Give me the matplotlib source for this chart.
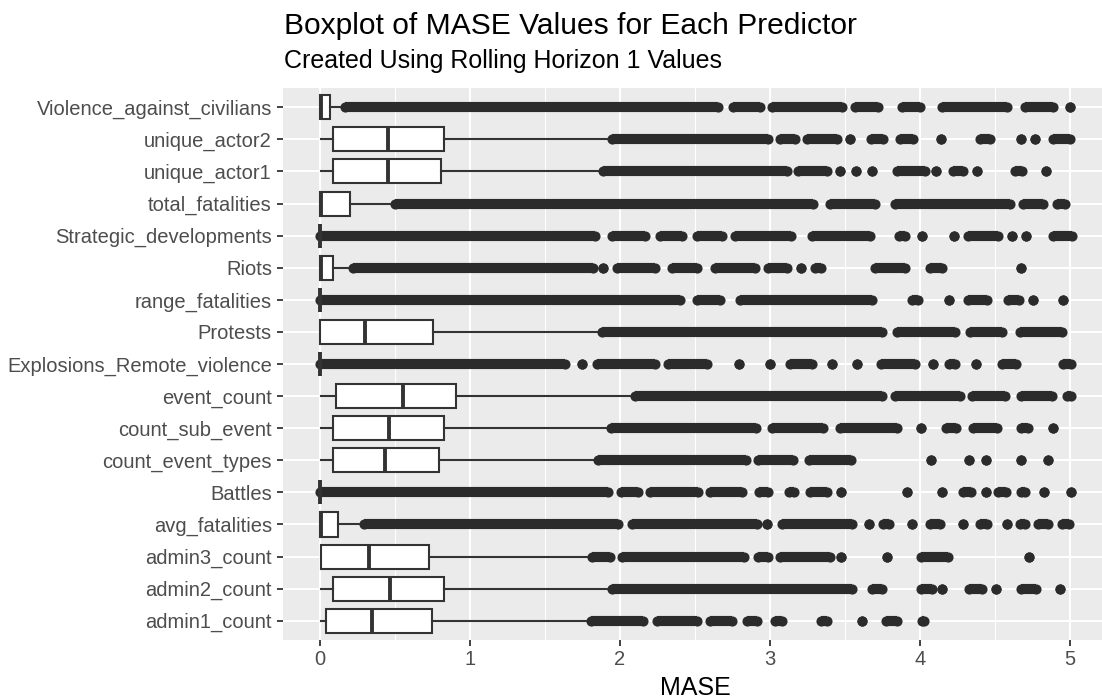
import matplotlib
matplotlib.use("Agg")
import matplotlib.pyplot as plt
from matplotlib.ticker import MultipleLocator

plt.rcParams['font.family'] = ['Liberation Sans', 'DejaVu Sans']

# ---------------- data (bottom to top, as ggplot orders factor levels) -------------
categories = ["admin1_count", "admin2_count", "admin3_count", "avg_fatalities", "Battles",
              "count_event_types", "count_sub_event", "event_count",
              "Explosions_Remote_violence", "Protests", "range_fatalities", "Riots",
              "Strategic_developments", "total_fatalities", "unique_actor1",
              "unique_actor2", "Violence_against_civilians"]

whisker_low = [0.004, 0.004, 0.004, 0.0, 0.0, 0.004, 0.004, 0.004,
               0.0, 0.0, 0.0, 0.0, 0.0, 0.0, 0.004, 0.004, 0.0]
q1 = [0.040, 0.084, 0.004, 0.0, 0.0, 0.084, 0.084, 0.107,
      0.0, 0.0, 0.0, 0.0, 0.0, 0.0, 0.084, 0.084, 0.0]
median = [0.349, 0.467, 0.329, 0.004, 0.0, 0.431, 0.460, 0.556,
          0.0, 0.302, 0.0, 0.004, 0.0, 0.004, 0.456, 0.456, 0.004]
q3 = [0.744, 0.829, 0.729, 0.122, 0.0, 0.796, 0.829, 0.904,
      0.0, 0.756, 0.0, 0.089, 0.0, 0.200, 0.809, 0.829, 0.067]
whisker_high = [1.773, 1.911, 1.778, 0.262, 0.0, 1.822, 1.907, 2.067,
                0.0, 1.844, 0.0, 0.190, 0.0, 0.467, 1.855, 1.922, 0.133]

# outliers: runs of overlapping points [first, last]; a single point has first == last
outlier_runs = {
    "admin1_count": [[1.807, 2.156], [2.244, 2.511], [2.600, 2.744], [2.849, 2.911],
                     [3.033, 3.078], [3.338, 3.378], [3.616, 3.616], [3.771, 3.849],
                     [4.016, 4.029]],
    "admin2_count": [[1.944, 3.544], [3.682, 3.744], [4.004, 4.078], [4.149, 4.149],
                     [4.327, 4.416], [4.504, 4.504], [4.671, 4.771], [4.933, 4.933]],
    "admin3_count": [[1.811, 1.933], [2.011, 2.829], [2.922, 2.989], [3.067, 3.400],
                     [3.471, 3.471], [3.782, 3.782], [4.004, 4.189], [4.727, 4.727]],
    "avg_fatalities": [[0.296, 1.989], [2.078, 2.911], [2.978, 2.978], [3.078, 3.544],
                       [3.658, 3.658], [3.756, 3.793], [3.944, 3.944], [4.067, 4.133],
                       [4.289, 4.289], [4.400, 4.444], [4.578, 4.578], [4.667, 4.700],
                       [4.789, 4.856], [4.944, 4.993]],
    "Battles": [[0.0, 1.922], [2.007, 2.122], [2.200, 2.522], [2.600, 2.811],
                [2.927, 2.989], [3.129, 3.160], [3.267, 3.378], [3.471, 3.471],
                [3.916, 3.916], [4.149, 4.149], [4.289, 4.338], [4.438, 4.438],
                [4.522, 4.571], [4.673, 4.700], [4.827, 4.827], [5.004, 5.004]],
    "count_event_types": [[1.856, 2.840], [2.922, 3.156], [3.260, 3.538], [4.073, 4.073],
                          [4.324, 4.324], [4.440, 4.440], [4.673, 4.673], [4.856, 4.856]],
    "count_sub_event": [[1.940, 2.907], [3.011, 3.356], [3.467, 3.844], [4.007, 4.007],
                        [4.171, 4.238], [4.356, 4.511], [4.673, 4.722], [4.889, 4.889]],
    "event_count": [[2.100, 3.744], [3.833, 4.267], [4.344, 4.567], [4.673, 4.878],
                    [4.980, 5.009]],
    "Explosions_Remote_violence": [[0.0, 1.633], [1.744, 1.744], [1.844, 2.233],
                                   [2.322, 2.578], [2.791, 2.791], [3.002, 3.002],
                                   [3.133, 3.278], [3.411, 3.411], [3.578, 3.578],
                                   [3.740, 3.967], [4.089, 4.089], [4.193, 4.233],
                                   [4.371, 4.371], [4.549, 4.640], [4.956, 5.007]],
    "Protests": [[1.878, 3.744], [3.844, 4.233], [4.333, 4.544], [4.667, 4.949]],
    "range_fatalities": [[0.0, 2.400], [2.511, 2.667], [2.800, 3.678], [3.944, 3.984],
                         [4.193, 4.193], [4.322, 4.444], [4.589, 4.660], [4.756, 4.756],
                         [4.956, 4.956]],
    "Riots": [[0.222, 1.820], [1.889, 1.889], [1.978, 2.233], [2.344, 2.511],
              [2.633, 2.900], [2.989, 3.111], [3.204, 3.204], [3.300, 3.340],
              [3.700, 3.900], [4.067, 4.144], [4.673, 4.673]],
    "Strategic_developments": [[0.0, 1.833], [1.944, 2.167], [2.267, 2.411],
                               [2.511, 2.678], [2.767, 3.140], [3.278, 3.667],
                               [3.860, 3.900], [4.016, 4.016], [4.229, 4.229],
                               [4.322, 4.522], [4.616, 4.616], [4.707, 4.707],
                               [4.889, 5.011]],
    "total_fatalities": [[0.500, 3.289], [3.400, 3.700], [3.833, 4.600], [4.689, 4.822],
                         [4.911, 4.967]],
    "unique_actor1": [[1.889, 3.111], [3.189, 3.378], [3.467, 3.467], [3.573, 3.573],
                      [3.678, 3.678], [3.844, 4.033], [4.104, 4.104], [4.222, 4.289],
                      [4.382, 4.382], [4.633, 4.678], [4.840, 4.840]],
    "unique_actor2": [[1.944, 2.989], [3.067, 3.167], [3.244, 3.444], [3.533, 3.533],
                      [3.671, 3.756], [3.867, 3.956], [4.138, 4.138], [4.400, 4.467],
                      [4.670, 4.670], [4.767, 4.767], [4.889, 5.000]],
    "Violence_against_civilians": [[0.167, 2.656], [2.756, 2.933], [3.011, 3.478],
                                   [3.567, 3.718], [3.878, 4.000], [4.144, 4.578],
                                   [4.700, 4.889], [5.000, 5.000]],
}

title = "Boxplot of MASE Values for Each Predictor"
subtitle = "Created Using Rolling Horizon 1 Values"
x_label = "MASE"

# ---------------- style ----------------
W, H, DPI = 1102, 698, 100
PANEL = "#EBEBEB"
INK = "#333333"
PT_COL = "#2b2b2b"
DOT = 7.3  # point diameter in pt

fig = plt.figure(figsize=(W / DPI, H / DPI), dpi=DPI)
ax = fig.add_axes([283 / W, (H - 640) / H, 1 - 283 / W, (640 - 88) / H])
ax.set_facecolor(PANEL)
for s in ax.spines.values():
    s.set_visible(False)

positions = list(range(1, len(categories) + 1))

ax.xaxis.set_major_locator(MultipleLocator(1))
ax.xaxis.set_minor_locator(MultipleLocator(0.5))
ax.set_yticks(positions)
ax.set_yticklabels(categories)
ax.grid(which="major", axis="both", color="white", linewidth=1.5, zorder=0)
ax.grid(which="minor", axis="x", color="white", linewidth=0.75, zorder=0)
ax.set_axisbelow(True)

# outliers
for cat, y in zip(categories, positions):
    for a, b in outlier_runs[cat]:
        ax.plot([a, b], [y, y], "-o", color=PT_COL, lw=DOT, ms=DOT, mew=0,
                solid_capstyle="butt", zorder=2)

stats = []
for i, cat in enumerate(categories):
    stats.append(dict(label=cat, whislo=whisker_low[i], q1=q1[i], med=median[i],
                      q3=q3[i], whishi=whisker_high[i], fliers=[]))

ax.bxp(stats, positions=positions, orientation="horizontal", widths=0.75,
       patch_artist=True, showcaps=False, showfliers=False, manage_ticks=False,
       boxprops=dict(facecolor="white", edgecolor=INK, linewidth=1.5),
       whiskerprops=dict(color=INK, linewidth=1.5),
       medianprops=dict(color=INK, linewidth=2.8, solid_capstyle="butt"),
       zorder=3)

ax.set_xlim(-0.247, (W - 320) / 150)
ax.set_ylim(0.4, len(categories) + 0.6)

ax.tick_params(axis="both", which="major", color=INK, length=4.5, width=1.3,
               labelcolor="#4D4D4D", labelsize=14.5)
ax.tick_params(axis="x", which="major", pad=2.5)
ax.tick_params(axis="y", which="major", pad=3.5)
ax.tick_params(axis="x", which="minor", length=0)

fig.text(284 / W, (H - 34.3) / H, title, fontsize=21.6, color="black", va="baseline", ha="left")
fig.text(284 / W, (H - 68.3) / H, subtitle, fontsize=18, color="black", va="baseline", ha="left")
fig.text(695 / W, (H - 695) / H, x_label, fontsize=18, color="black", va="baseline", ha="center")

fig.savefig("out.png", dpi=DPI)
